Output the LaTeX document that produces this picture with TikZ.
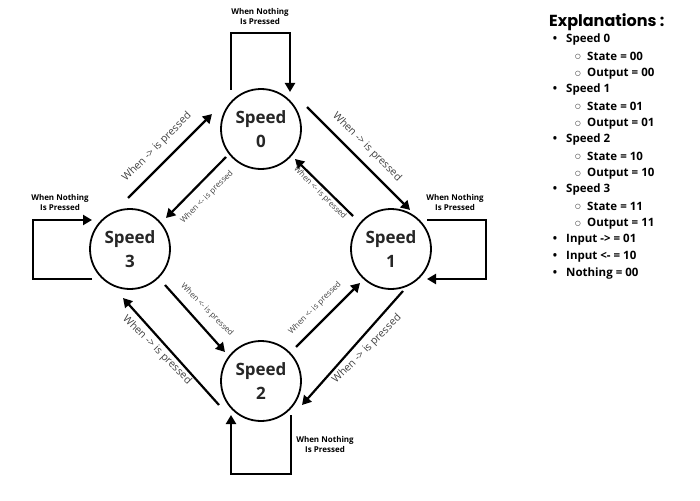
\documentclass[tikz,border=0pt]{standalone}
\usepackage{fontspec}
\setmainfont{Open Sans}
\newfontfamily\titlefont{Poppins}
\newfontfamily\symfont{DejaVu Sans}
\usetikzlibrary{arrows.meta,calc}
\begin{document}
\begin{tikzpicture}[x=1pt,y=-1pt,
  state/.style={circle,draw,line width=1.8pt,minimum size=80pt,inner sep=0pt,
    font=\fontsize{17}{24}\selectfont\bfseries,align=center,text=black!85},
  arr/.style={line width=2.2pt,-{Triangle[length=9pt,width=10pt]}},
  selfloop/.style={line width=2.2pt,-{Triangle[length=9pt,width=10pt]}},
  biglab/.style={font=\fontsize{10.5}{12}\selectfont,text=black!75,inner sep=0pt},
  smalllab/.style={font=\fontsize{8}{10}\selectfont,text=black!75,inner sep=0pt},
  nothing/.style={font=\fontsize{8}{10}\selectfont\bfseries,align=center,inner sep=0pt},
  mainitem/.style={anchor=west,font=\fontsize{11.5}{12}\selectfont\bfseries,inner sep=0pt},
  subitem/.style={anchor=west,font=\fontsize{11.5}{12}\selectfont\bfseries,inner sep=0pt},
  bul/.style={font=\fontsize{11.5}{12}\selectfont\bfseries,inner sep=0pt},
  subbul/.style={font=\symfont\fontsize{6.5}{8}\selectfont,inner sep=0pt},
]
\useasboundingbox (0,0) rectangle (700,500);

% states
\node[state] (s0) at (261,129) {Speed\\0};
\node[state] (s1) at (391,249) {Speed\\1};
\node[state] (s2) at (261,381) {Speed\\2};
\node[state] (s3) at (130,249) {Speed\\3};

% self loops
\draw[selfloop] ($(s0.center)+(-30,-39)$) -- ++(0,-57) -| ($(s0.center)+(29,-37)$);
\node[nothing] (n0) at (260,17) {When Nothing\\Is Pressed};
\draw[selfloop] ($(s1.center)+(36,-29)$) -- ++(59,0) |- ($(s1.center)+(36,30)$);
\node[nothing] (n1) at (455,202.5) {When Nothing\\Is Pressed};
\draw[selfloop] ($(s2.center)+(30,34)$) -- ++(0,59) -| ($(s2.center)+(-30,34)$);
\node[nothing] (n2) at (325,444.5) {When Nothing\\Is Pressed};
\draw[selfloop] ($(s3.center)+(-38,30)$) -- ++(-59,0) |- ($(s3.center)+(-38,-29)$);
\node[nothing] (n3) at (60,202.5) {When Nothing\\Is Pressed};

% transitions
\draw[arr] ($(s3.center)+(-2,-51)$) -- ($(s0.center)+(-49,-15)$);
\draw[arr] ($(s0.center)+(-35,28)$) -- ($(s3.center)+(36,-31)$);
\draw[arr] ($(s0.center)+(46,-22)$) -- ($(s1.center)+(19,-39)$);
\draw[arr] ($(s1.center)+(-38,-33)$) -- ($(s0.center)+(34,30)$);
\draw[arr] ($(s3.center)+(35,36)$) -- ($(s2.center)+(-36,-29)$);
\draw[arr] ($(s2.center)+(-42,24)$) -- ($(s3.center)+(-7,49)$);
\draw[arr] ($(s2.center)+(35,-34)$) -- ($(s1.center)+(-31,34)$);
\draw[arr] ($(s1.center)+(12,42)$) -- ($(s2.center)+(41,24)$);

% transition labels
\node[biglab,rotate=45] (l1) at (157,147) {When -> is pressed};
\node[smalllab,rotate=45] (l2) at (207,197) {When <- is pressed};
\node[biglab,rotate=-45] (l3) at (367,147) {When -> is pressed};
\node[smalllab,rotate=-45] (l4) at (320,193) {When <- is pressed};
\node[smalllab,rotate=-45] (l5) at (207,310) {When <- is pressed};
\node[biglab,rotate=-45] (l6) at (157,350) {When -> is pressed};
\node[smalllab,rotate=45] (l7) at (315,308) {When <- is pressed};
\node[biglab,rotate=45] (l8) at (367,349) {When -> is pressed};

% explanations
\node[anchor=west,inner sep=0pt,font=\titlefont\fontsize{16}{18}\selectfont\bfseries] (title) at (549,22) {Explanations :};
\foreach \y/\t/\k [count=\i] in {
  40/Speed 0/m, 56.67/State = 00/s, 73.33/Output = 00/s,
  90/Speed 1/m, 106.67/State = 01/s, 123.33/Output = 01/s,
  140/Speed 2/m, 156.67/State = 10/s, 173.33/Output = 10/s,
  190/Speed 3/m, 206.67/State = 11/s, 223.33/Output = 11/s,
  240/Input -> = 01/m, 256.67/Input <- = 10/m, 273.33/Nothing = 00/m}{
  \if m\k
    \node[bul] (b\i) at (555,\y) {•};
    \node[mainitem] (t\i) at (566,\y) {\t};
  \else
    \node[subbul] (b\i) at (578,\y) {○};
    \node[subitem] (t\i) at (587,\y) {\t};
  \fi
}
\end{tikzpicture}
\end{document}
